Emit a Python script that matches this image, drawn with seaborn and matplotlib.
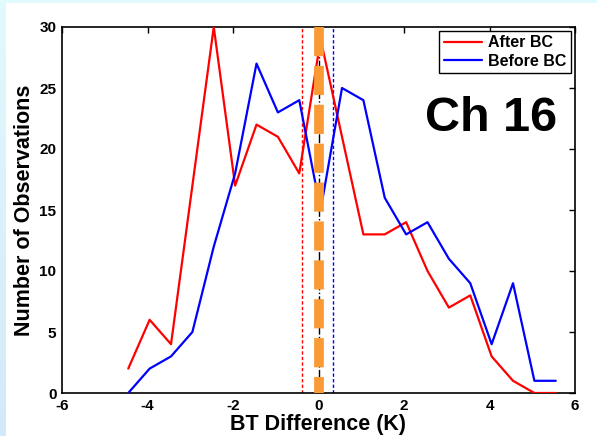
import numpy as np
import pandas as pd
import matplotlib
matplotlib.use("Agg")
import matplotlib.pyplot as plt
import seaborn as sns
from matplotlib.patches import Rectangle

# Bin centres of the BT difference histogram (K)
bin_centers = [-4.45, -3.95, -3.45, -2.95, -2.45, -1.95, -1.45, -0.95, -0.45, 0.05,
               0.55, 1.05, 1.55, 2.05, 2.55, 3.05, 3.55, 4.05, 4.55, 5.05, 5.55]

# Counts per bin
after_bc = [2, 6, 4, 17, 30, 17, 22, 21, 18, 29, 21, 13, 13, 14, 10, 7, 8, 3, 1, 0, 0]
before_bc = [0, 2, 3, 5, 12, 18, 27, 23, 24, 15, 25, 24, 16, 13, 14, 11, 9, 4, 9, 1, 1]

series_names = ["After BC", "Before BC"]
series_colors = ["#ff0000", "#0000ff"]

# Mean difference after / before bias correction, and zero reference
mean_after = -0.39
mean_before = 0.35
zero_ref = 0.0

x_ticks = [-6, -4, -2, 0, 2, 4, 6]
y_ticks = [0, 5, 10, 15, 20, 25, 30]

sns.set_style("white")
plt.rcParams["font.family"] = ["Liberation Sans", "DejaVu Sans"]
plt.rcParams["font.weight"] = "bold"
plt.rcParams["axes.unicode_minus"] = False
for key in ["text.color", "axes.labelcolor", "xtick.color", "ytick.color",
            "xtick.labelcolor", "ytick.labelcolor", "axes.edgecolor"]:
    plt.rcParams[key] = "black"

df = pd.DataFrame({
    "BT": bin_centers * 2,
    "count": after_bc + before_bc,
    "series": [series_names[0]] * len(bin_centers) + [series_names[1]] * len(bin_centers),
})

fig = plt.figure(figsize=(5.97, 4.36), dpi=100)
fig.patch.set_facecolor("white")

# light frame along the top and left border of the figure
fig.patches.append(Rectangle((0, 1 - 3.5 / 436), 1, 3.5 / 436, transform=fig.transFigure,
                             facecolor="#e0fafd", edgecolor="none", zorder=0))
grad_ax = fig.add_axes([0, 0, 6 / 597, 1 - 3.5 / 436], zorder=-1)
grad = np.linspace(0, 1, 256).reshape(-1, 1)
cmap = matplotlib.colors.LinearSegmentedColormap.from_list("edge", ["#d3e9f9", "#e0fafd"])
grad_ax.imshow(grad, aspect="auto", cmap=cmap, origin="lower", extent=[0, 1, 0, 1])
grad_ax.axis("off")

ax = fig.add_axes([62 / 597, 1 - 393 / 436, 513 / 597, 366 / 436])

sns.lineplot(data=df, x="BT", y="count", hue="series", hue_order=series_names,
             palette=series_colors, linewidth=1.6, ax=ax, zorder=3)

ax.axvline(mean_after, color="#ff0000", lw=1.0, ls=(0, (2.4, 1.6)), zorder=2)
ax.axvline(mean_before, color="#0000ff", lw=1.0, ls=(0, (2.4, 1.6)), zorder=2)
ax.axvline(zero_ref, color="black", lw=1.0, ls="-.", zorder=2)
ax.plot([zero_ref, zero_ref], [30, 0], color="#fa9a35", lw=7.0,
        ls=(0, (3.0, 1.0)), zorder=4, solid_capstyle="butt")

ax.set_xlim(-6, 6)
ax.set_ylim(0, 30)
ax.set_xticks(x_ticks, labels=[str(v) for v in x_ticks], fontsize=11, fontweight="bold")
ax.set_yticks(y_ticks, labels=[str(v) for v in y_ticks], fontsize=11, fontweight="bold")
ax.tick_params(direction="in", length=4, width=1, top=True, right=True,
               pad=4, colors="black")
for sp in ax.spines.values():
    sp.set_color("black")
    sp.set_linewidth(1.2)

ax.set_xlabel("BT Difference (K)", fontsize=15.5, fontweight="bold", labelpad=1)
ax.set_ylabel("Number of Observations", fontsize=15.5, fontweight="bold", labelpad=3)

ax.text(0.836, 0.75, "Ch 16", transform=ax.transAxes, fontsize=35,
        fontweight="bold", ha="center", va="center", color="black")

leg = ax.legend(loc="upper right", bbox_to_anchor=(0.993, 0.99), fontsize=11.5,
                handlelength=2.4, handletextpad=0.4, borderpad=0.3,
                labelspacing=0.2, fancybox=False, framealpha=1, borderaxespad=0)
leg.get_frame().set_edgecolor("black")
leg.get_frame().set_linewidth(1.0)
for t in leg.get_texts():
    t.set_fontweight("bold")
    t.set_color("black")

fig.savefig("out.png", dpi=100)
